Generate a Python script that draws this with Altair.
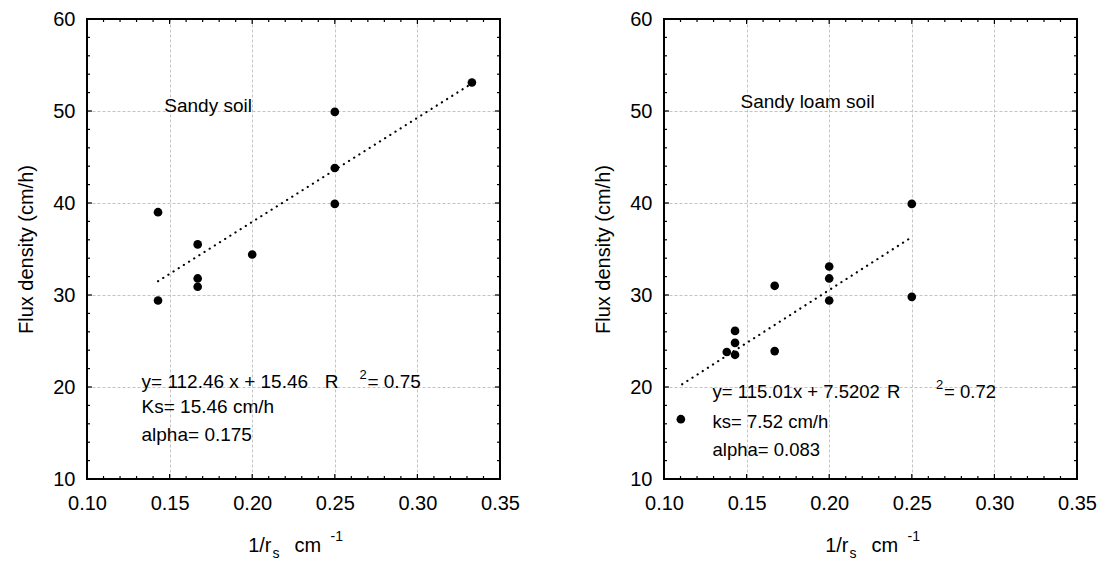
import altair as alt
import pandas as pd

FONT = "Liberation Sans"

# ---------------- data ----------------
sandy_x = [0.143, 0.143, 0.167, 0.167, 0.167, 0.200, 0.250, 0.250, 0.250, 0.333]
sandy_y = [39.0, 29.4, 35.5, 31.8, 30.9, 34.4, 49.9, 43.8, 39.9, 53.1]
sandy_fit_x = [0.143, 0.333]
sandy_fit_y = [31.5, 53.0]

loam_x = [0.138, 0.143, 0.143, 0.143, 0.167, 0.167, 0.200, 0.200, 0.200, 0.250, 0.250]
loam_y = [23.8, 26.1, 24.8, 23.5, 31.0, 23.9, 33.1, 31.8, 29.4, 39.9, 29.8]
loam_fit_x = [0.111, 0.250]
loam_fit_y = [20.3, 36.3]

x_major = [0.10, 0.15, 0.20, 0.25, 0.30, 0.35]
x_minor = [0.11, 0.12, 0.13, 0.14, 0.16, 0.17, 0.18, 0.19, 0.21, 0.22, 0.23, 0.24,
           0.26, 0.27, 0.28, 0.29, 0.31, 0.32, 0.33, 0.34]
y_major = [10, 20, 30, 40, 50, 60]
y_minor = [12, 14, 16, 18, 22, 24, 26, 28, 32, 34, 36, 38, 42, 44, 46, 48, 52, 54, 56, 58]

W, H = 413, 460
XS = alt.Scale(domain=[0.10, 0.35], nice=False, zero=False)
YS = alt.Scale(domain=[10, 60], nice=False, zero=False)

XA = alt.Axis(values=x_major, format=".2f", grid=True, ticks=False,
              domain=False, labelFontSize=20, labelFont=FONT,
              labelColor="black", labelPadding=14, title=None,
              labelFlush=False, labelOverlap=False, labelBound=False,
              gridColor="#c4c4c4", gridDash=[3, 2], gridWidth=1)
YA = alt.Axis(values=y_major, format="d", grid=True, ticks=False,
              domain=False, labelFontSize=20, labelFont=FONT,
              labelColor="black", labelPadding=12,
              labelFlush=False, labelOverlap=False, labelBound=False,
              title="Flux density (cm/h)", titleFont=FONT,
              titleFontSize=20, titleFontWeight="normal",
              titleColor="black", titlePadding=16,
              gridColor="#c4c4c4", gridDash=[3, 2], gridWidth=1)


def X(field):
    return alt.X(field, scale=XS, axis=XA, title=None)


def Y(field):
    return alt.Y(field, scale=YS, axis=YA, title="Flux density (cm/h)")


def tick_layers():
    layers = []
    for vals, ln in ((x_major, 5), (x_minor, 3)):
        d = pd.DataFrame({"v": vals})
        base = alt.Chart(d).mark_rule(color="black", strokeWidth=1.2)
        layers.append(base.encode(x=X("v:Q"), y=alt.value(H), y2=alt.value(H - ln)))
        layers.append(base.encode(x=X("v:Q"), y=alt.value(0), y2=alt.value(ln)))
    for vals, ln in ((y_major, 5), (y_minor, 3)):
        d = pd.DataFrame({"v": vals})
        base = alt.Chart(d).mark_rule(color="black", strokeWidth=1.2)
        layers.append(base.encode(y=Y("v:Q"), x=alt.value(0), x2=alt.value(ln)))
        layers.append(base.encode(y=Y("v:Q"), x=alt.value(W), x2=alt.value(W - ln)))
    return layers


def note(text, x, y, size=19, dy=0, dx=0):
    d = pd.DataFrame({"t": [text], "x": [x], "y": [y]})
    return alt.Chart(d).mark_text(align="left", baseline="middle", font=FONT,
                                  fontSize=size, dy=dy, dx=dx, color="black").encode(
        x=X("x:Q"), y=Y("y:Q"), text="t:N")


def px_text(text, x, y, size, align="left"):
    d = pd.DataFrame({"t": [text]})
    return alt.Chart(d).mark_text(align=align, baseline="middle", font=FONT,
                                  fontSize=size, color="black").encode(
        x=alt.value(x), y=alt.value(y), text="t:N")


def frame():
    d = pd.DataFrame({"x": [0.10], "x2": [0.35], "y": [10], "y2": [60]})
    return alt.Chart(d).mark_rect(fill=None, fillOpacity=0, stroke="black",
                                  strokeWidth=2).encode(
        x=X("x:Q"), x2="x2:Q", y=Y("y:Q"), y2="y2:Q")


def panel(px, py, fx, fy, notes, extra=None):
    pts = pd.DataFrame({"x": px, "y": py})
    fit = pd.DataFrame({"x": fx, "y": fy})
    scatter = alt.Chart(pts).mark_circle(size=75, color="black", opacity=1).encode(
        x=X("x:Q"), y=Y("y:Q"))
    line = alt.Chart(fit).mark_line(color="black", strokeWidth=2.2, strokeCap="round",
                                    strokeDash=[0.1, 6]).encode(x=X("x:Q"), y=Y("y:Q"))
    c = W / 2
    ty = 527
    xt = [
        px_text("1/r", c - 22, ty, 20, "right"),
        px_text("s", c - 21, ty + 8, 14),
        px_text("cm", c + 1, ty, 20),
        px_text("-1", c + 37, ty - 9, 14),
    ]
    layers = [scatter, line] + tick_layers() + [frame()] + notes + xt
    if extra is not None:
        layers.append(extra)
    return alt.layer(*layers).properties(width=W, height=H)


left_notes = [
    note("Sandy soil", 0.1468, 50.5),
    note("y= 112.46 x + 15.46", 0.133, 20.5),
    note("R", 0.2439, 20.5),
    note("2", 0.2649, 20.5, size=13, dy=-7),
    note("= 0.75", 0.2649, 20.5, dx=8),
    note("Ks= 15.46 cm/h", 0.133, 17.8),
    note("alpha= 0.175", 0.133, 14.8),
]
right_notes = [
    note("Sandy loam soil", 0.1463, 51.0),
    note("y= 115.01x + 7.5202", 0.1294, 19.5, size=18.5),
    note("R", 0.2350, 19.5, size=18.5),
    note("2", 0.2647, 19.5, size=13, dy=-7),
    note("= 0.72", 0.2647, 19.5, size=18.5, dx=8),
    note("ks= 7.52 cm/h", 0.1294, 16.2, size=18.5),
    note("alpha= 0.083", 0.1294, 13.2, size=18.5),
]
legend_dot = alt.Chart(pd.DataFrame({"x": [0.1102], "y": [16.5]})).mark_circle(
    size=75, color="black", opacity=1).encode(x=X("x:Q"), y=Y("y:Q"))

left = panel(sandy_x, sandy_y, sandy_fit_x, sandy_fit_y, left_notes)
right = panel(loam_x, loam_y, loam_fit_x, loam_fit_y, right_notes, legend_dot)

chart = alt.hconcat(left, right, spacing=73).properties(
    padding={"left": 8, "top": 0, "right": 0, "bottom": 0}
).configure_view(stroke=None).configure(background="white")

chart.save("out.html", embed_options={"renderer": "svg", "actions": False})
